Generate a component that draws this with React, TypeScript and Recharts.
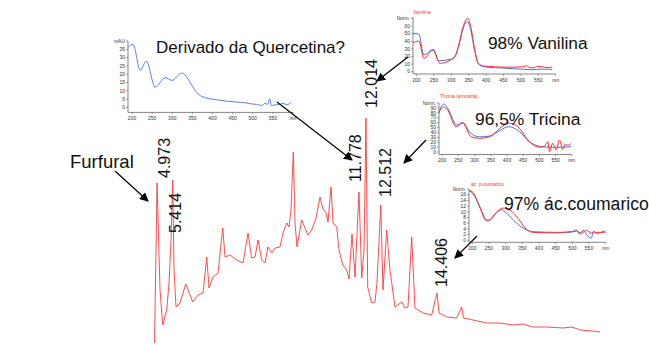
import React from "react";
import { LineChart, Line, XAxis, YAxis, ReferenceDot } from "recharts";

// main chromatogram: retention time (min) vs absorbance (arbitrary units)
const retTime = [
  4.889, 4.973, 5.074, 5.165, 5.3, 5.377, 5.445, 5.502, 5.546, 5.613, 5.748, 5.94, 6.176, 6.354, 6.523,
  6.647, 6.725, 6.86, 7.028, 7.187, 7.264, 7.433, 7.658, 7.871, 8.039, 8.164, 8.275, 8.376, 8.5, 8.612,
  8.713, 8.837, 8.949, 9.117, 9.218, 9.343, 9.42, 9.488, 9.565, 9.623, 9.69, 9.848, 9.959, 10.06, 10.185,
  10.33, 10.465, 10.556, 10.667, 10.734, 10.836, 10.903, 11.028, 11.105, 11.23, 11.365, 11.442, 11.543,
  11.644, 11.778, 11.87, 11.947, 12.014, 12.071, 12.205, 12.317, 12.384, 12.512, 12.586, 12.711, 12.822,
  12.991, 13.217, 13.328, 13.429, 13.554, 13.665, 13.935, 14.228, 14.406, 14.474, 14.734, 15.071, 15.239,
  15.3, 15.62, 16.082, 16.53, 16.968, 17.304, 17.641, 18.103, 18.652, 18.946, 19.225, 19.663, 19.899,
];
const absorbance = [
  2, 162, 55, 20, 35, 62, 105, 165, 75, 38, 42, 61, 43, 50, 52,
  88, 57, 68, 72, 117, 88, 90, 85, 82, 112, 87, 88, 105, 85, 82,
  98, 92, 97, 98, 112, 122, 118, 135, 193, 122, 98, 125, 117, 110, 115,
  127, 148, 137, 132, 123, 158, 122, 118, 95, 80, 75, 66, 111,
  68, 153, 67, 95, 227, 58, 42, 43, 62, 140, 55, 115, 75,
  38, 43, 37, 38, 108, 37, 32, 30, 52, 32, 28, 27, 38,
  27, 25, 22, 22, 20, 21, 18, 18, 17, 18, 15, 14, 13,
];

const peakTimes = [4.973, 5.414, 11.778, 12.014, 12.512, 14.406];
const peakHeights = [162, 165, 153, 227, 140, 52];
const peakLabels = ["4.973", "5.414", "11.778", "12.014", "12.512", "14.406"];

// UV spectra (nm vs signal)
const nmTicks = [200, 250, 300, 350, 400, 450, 500, 550, 600];

const querNm = [190.5, 202.5, 220.5, 235.4, 257.7, 282.4, 299, 323.7, 344.3, 356.7, 373.3, 410.4, 459.9, 480, 495, 509.4, 524.2, 530, 537, 542, 546, 555, 567, 575, 585, 596];
const querMau = [36.3, 38, 22.3, 27.9, 12.2, 17.9, 16.3, 20.7, 15.2, 10.2, 6.6, 4.6, 3.2, 2.8, 2.2, 1.8, 1.2, 2.6, 1.8, 5.2, 1.2, 1.5, 1.8, 2.4, 1.6, 3.2];

const vanBlueNm = [190.5, 206.7, 221, 248, 264, 297.7, 310, 322, 333, 346, 356, 366, 378, 393, 460, 508, 530, 560, 590];
const vanBlue = [50.5, 49.6, 22, 29.5, 14.5, 16.3, 20, 35, 55, 66, 55, 30, 10, 6.6, 4.5, 3.2, 2.6, 3.5, 3];
const vanRedNm = [190.5, 206.7, 221, 248, 267, 297.7, 310, 322, 333, 347.5, 357, 367, 378, 393, 460, 508, 517, 525, 536, 545, 562, 575, 590];
const vanRed = [38, 40.4, 17.6, 28.5, 11, 15.4, 19, 36, 58, 70.3, 57, 30, 11, 7.5, 6, 6.5, 8, 5.5, 5, 6.8, 6.5, 5.5, 6];

const triBlueNm = [189.5, 204, 217, 245, 263.6, 284, 315, 346, 377, 405.5, 438.5, 469, 500, 541, 598];
const triBlue = [80, 98, 89, 55, 60.6, 41, 31, 32.6, 43.5, 51.7, 41.4, 21, 12, 9.6, 10.8];
const triRedNm = [189.5, 204, 217, 243, 263.6, 289.5, 315, 346, 377, 405.5, 433, 469, 500, 516, 526, 531, 541, 552, 562, 572, 580, 587.6, 598];
const triRed = [80, 92, 85, 51.7, 59, 31, 28, 31, 48, 59, 51.7, 21, 9.6, 12, 21, 0.6, 17.7, 4, 24.5, 5.5, 16, 14, 17.7];

const coumBlueNm = [189.8, 202, 222, 242, 252, 267, 287, 302, 332, 362, 382, 452, 497, 512, 522, 532, 547, 557, 564, 575, 590, 600];
const coumBlue = [17.5, 16.3, 11.9, 7.2, 7, 9, 10.7, 9.6, 6.1, 3.7, 3, 2.8, 2.8, 3.7, 2, 3.5, 1.4, 0.8, 3.3, 2.4, 3, 3.3];
const coumRedNm = [189.8, 202, 222, 242, 252, 272, 292, 312, 337, 362, 382, 452, 512, 527, 542, 557, 575, 600];
const coumRed = [17.5, 16.8, 11.7, 6.8, 7.2, 9.8, 11.3, 10.7, 7.7, 3.9, 2.8, 2.6, 3.2, 2.5, 3.5, 2.5, 2.8, 2.8];

const FONT = "'Liberation Sans', Arial, sans-serif";
const BLUE = "#4b70d2";
const RED = "#ff2f2f";

const zip = (xs: number[], ys: number[], xk: string, yk: string) =>
  xs.map((x, i) => ({ [xk]: x, [yk]: ys[i] }));

const chromData = zip(retTime, absorbance, "t", "v");

// offsets of the rotated peak labels from the peak apex (px)
const labelOffset: Record<string, [number, number]> = {
  "4.973": [13, -5],
  "5.414": [11, 53],
  "11.778": [2.5, -10],
  "12.014": [11, -10],
  "12.512": [10, -8],
  "14.406": [10.5, -6],
};

const PeakText = (props: any) => {
  const vb = props.viewBox || {};
  const [dx, dy] = labelOffset[props.text];
  const x = (vb.x ?? 0) + (vb.width ?? 0) / 2 + dx;
  const y = (vb.y ?? 0) + (vb.height ?? 0) / 2 + dy;
  return (
    <text
      x={x}
      y={y}
      transform={`rotate(-90 ${x} ${y})`}
      fontSize={16}
      fontFamily={FONT}
      fill="#111"
    >
      {props.text}
    </text>
  );
};

type Series = { nm: number[]; val: number[]; color: string };

function Spectrum({
  axisX,
  plotTop,
  plotW,
  plotH,
  yDomain,
  yTicks,
  topLabel,
  series,
}: {
  axisX: number;
  plotTop: number;
  plotW: number;
  plotH: number;
  yDomain: [number, number];
  yTicks: number[];
  topLabel: string;
  series: Series[];
}) {
  const yw = 16;
  const xh = 12;
  const mt = 4;
  const mr = 6;
  const topTick = yTicks[yTicks.length - 1];
  const tickStyle = { fontSize: 5, fill: "#333", fontFamily: FONT };
  return (
    <div style={{ position: "absolute", left: axisX - yw, top: plotTop - mt }}>
      <LineChart
        width={yw + plotW + mr}
        height={mt + plotH + xh}
        margin={{ top: mt, right: mr, bottom: 0, left: 0 }}
      >
        <XAxis
          type="number"
          dataKey="nm"
          domain={[190, 600]}
          ticks={nmTicks}
          interval={0}
          allowDataOverflow
          height={xh}
          tickSize={2}
          tick={tickStyle}
          tickFormatter={(v: number) => (v === 600 ? "nm" : String(v))}
          axisLine={{ stroke: "#666", strokeWidth: 0.8 }}
          tickLine={{ stroke: "#666", strokeWidth: 0.6 }}
        />
        <YAxis
          type="number"
          domain={yDomain}
          ticks={yTicks}
          interval={0}
          allowDataOverflow
          width={yw}
          tickSize={2}
          tickMargin={1}
          tick={tickStyle}
          tickFormatter={(v: number) => (v === topTick ? topLabel : String(v))}
          axisLine={{ stroke: "#666", strokeWidth: 0.8 }}
          tickLine={{ stroke: "#666", strokeWidth: 0.6 }}
        />
        {series.map((s, i) => (
          <Line
            key={i}
            data={zip(s.nm, s.val, "nm", "v")}
            dataKey="v"
            type="monotone"
            stroke={s.color}
            strokeWidth={1}
            dot={false}
            isAnimationActive={false}
          />
        ))}
      </LineChart>
    </div>
  );
}

export default function App() {
  return (
    <div
      style={{
        position: "relative",
        width: 649,
        height: 345,
        background: "#fff",
        overflow: "hidden",
        fontFamily: FONT,
      }}
    >
      <style>{"body{margin:0}"}</style>

      <div style={{ position: "absolute", left: 143, top: 40 }}>
        <LineChart
          width={460}
          height={305}
          data={chromData}
          margin={{ top: 60, right: 0, bottom: 0, left: 0 }}
        >
          <XAxis type="number" dataKey="t" domain={[4.5, 20]} hide allowDataOverflow />
          <YAxis type="number" domain={[0, 245]} hide allowDataOverflow />
          <Line
            dataKey="v"
            type="linear"
            stroke="#ff3a3a"
            strokeWidth={0.9}
            dot={false}
            isAnimationActive={false}
          />
          {peakTimes.map((t, i) => (
            <ReferenceDot
              key={peakLabels[i]}
              x={t}
              y={peakHeights[i]}
              r={0}
              fill="none"
              stroke="none"
              ifOverflow="visible"
              label={(p: any) => <PeakText {...p} text={peakLabels[i]} />}
            />
          ))}
        </LineChart>
      </div>

      <Spectrum
        axisX={128}
        plotTop={40.6}
        plotW={165}
        plotH={71.4}
        yDomain={[-3, 40]}
        yTicks={[0, 5, 10, 15, 20, 25, 30, 35, 40]}
        topLabel="mAU"
        series={[{ nm: querNm, val: querMau, color: "#5a7fd8" }]}
      />
      <Spectrum
        axisX={412.7}
        plotTop={17}
        plotW={142.7}
        plotH={57}
        yDomain={[-3, 72]}
        yTicks={[0, 10, 20, 30, 40, 50, 60, 70]}
        topLabel="Norm."
        series={[
          { nm: vanBlueNm, val: vanBlue, color: BLUE },
          { nm: vanRedNm, val: vanRed, color: RED },
        ]}
      />
      <Spectrum
        axisX={439.3}
        plotTop={103}
        plotW={132.8}
        plotH={51.5}
        yDomain={[-5, 100]}
        yTicks={[0, 10, 20, 30, 40, 50, 60, 70, 80, 90, 100]}
        topLabel="Norm."
        series={[
          { nm: triBlueNm, val: triBlue, color: BLUE },
          { nm: triRedNm, val: triRed, color: RED },
        ]}
      />
      <Spectrum
        axisX={469.3}
        plotTop={189.4}
        plotW={136.7}
        plotH={53.3}
        yDomain={[-0.7, 18]}
        yTicks={[0, 2, 4, 6, 8, 10, 12, 14, 16, 18]}
        topLabel="Norm."
        series={[
          { nm: coumBlueNm, val: coumBlue, color: BLUE },
          { nm: coumRedNm, val: coumRed, color: RED },
        ]}
      />

      {/* captions and arrows */}
      <svg
        width={649}
        height={345}
        style={{ position: "absolute", left: 0, top: 0, pointerEvents: "none" }}
      >
        <defs>
          <marker
            id="ah"
            markerWidth="9"
            markerHeight="9"
            refX="8"
            refY="4.5"
            orient="auto"
            markerUnits="userSpaceOnUse"
          >
            <path d="M0,0 L9,4.5 L0,9 z" fill="#000" />
          </marker>
        </defs>
        <g stroke="#000" strokeWidth={1.2} markerEnd="url(#ah)">
          <line x1={115} y1={171} x2={148} y2={201} />
          <line x1={277} y1={102} x2={352} y2={160} />
          <line x1={408} y1={57} x2={377} y2={81} />
          <line x1={426} y1={140} x2={404} y2={163} />
          <line x1={477} y1={236} x2={455} y2={258} />
        </g>
        <g fontFamily={FONT} fill="#111">
          <text x={70} y={168} fontSize={18.5}>Furfural</text>
          <text x={156} y={53} fontSize={17}>Derivado da Quercetina?</text>
          <text x={488} y={48.5} fontSize={17.3}>98% Vanilina</text>
          <text x={475} y={125} fontSize={17.4}>96,5% Tricina</text>
          <text x={504} y={210} fontSize={17.6}>97% ác.coumarico</text>
        </g>
        <g fontFamily={FONT} fill={RED} fontSize={5}>
          <text x={413} y={14}>Vanilina</text>
          <text x={440} y={98}>Tricina (amostra)</text>
          <text x={471} y={186}>ác. p-cumarico</text>
        </g>
      </svg>
    </div>
  );
}
